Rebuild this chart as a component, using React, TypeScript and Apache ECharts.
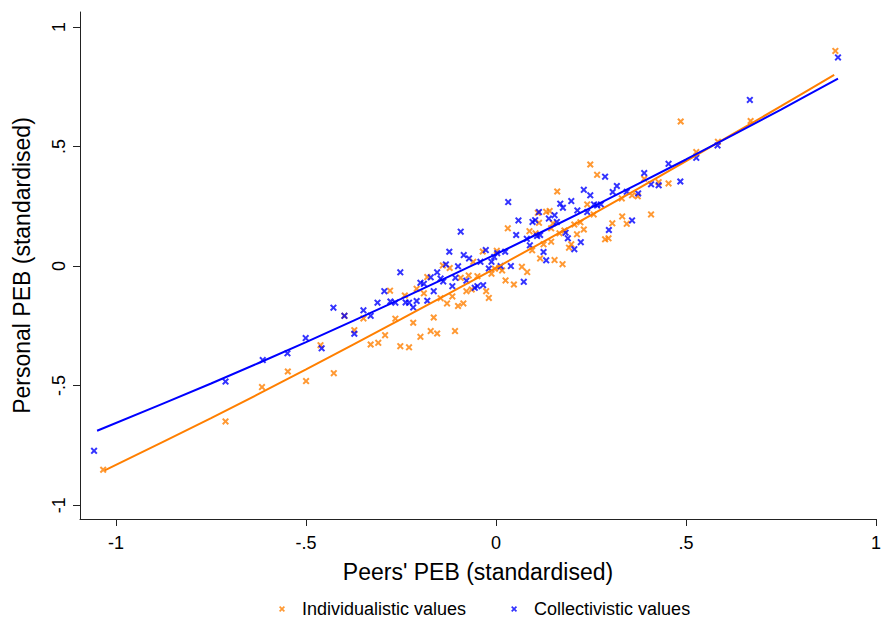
import React, { useEffect, useRef } from "react";
import * as echarts from "echarts";

const xTicks = [-1, -0.5, 0, 0.5, 1];
const yTicks = [-1, -0.5, 0, 0.5, 1];
const seriesNames = ["Individualistic values", "Collectivistic values"];

const individualistic: number[][] = [
  [-1.034, -0.852], [-0.712, -0.65], [-0.616, -0.506], [-0.548, -0.441], [-0.5, -0.481], [-0.462, -0.331],
  [-0.427, -0.448], [-0.399, -0.208], [-0.373, -0.268], [-0.349, -0.219], [-0.33, -0.328], [-0.31, -0.321],
  [-0.292, -0.289], [-0.279, -0.103], [-0.265, -0.22], [-0.252, -0.335], [-0.24, -0.123], [-0.229, -0.34],
  [-0.218, -0.237], [-0.209, -0.095], [-0.199, -0.296], [-0.19, -0.114], [-0.181, -0.046], [-0.172, -0.272],
  [-0.164, -0.215], [-0.155, -0.282], [-0.14, 0.003], [-0.122, -0.008], [-0.06, 0.018], [-0.035, 0.061],
  [0.002, 0.064], [0.009, -0.007], [0.016, -0.018], [0.031, 0.158], [0.047, -0.077], [0.025, -0.06],
  [0.068, -0.003], [0.082, -0.025], [0.088, 0.146], [0.11, 0.223], [-0.093, -0.049], [-0.072, -0.039],
  [-0.049, -0.042], [-0.064, -0.098], [-0.078, -0.105], [-0.026, -0.105], [-0.019, -0.133], [-0.012, -0.032],
  [-0.003, -0.011], [-0.129, -0.156], [-0.115, -0.127], [-0.1, -0.167], [-0.086, -0.156], [-0.146, -0.134],
  [-0.108, -0.272], [0.248, 0.425], [0.266, 0.382], [0.161, 0.312], [0.358, 0.296], [0.373, 0.292],
  [0.331, 0.283], [0.24, 0.258], [0.257, 0.216], [0.332, 0.208], [0.344, 0.177], [0.306, 0.179],
  [0.296, 0.116], [0.287, 0.112], [0.132, 0.227], [0.141, 0.23], [0.113, 0.181], [0.15, 0.179],
  [0.222, 0.183], [0.206, 0.174], [0.231, 0.153], [0.213, 0.133], [0.18, 0.149], [0.167, 0.137],
  [0.145, 0.158], [0.104, 0.137], [0.145, 0.102], [0.125, 0.091], [0.095, 0.066], [0.198, 0.091],
  [0.192, 0.077], [0.116, 0.032], [0.154, 0.025], [0.175, 0.008], [0.893, 0.9], [0.67, 0.607],
  [0.486, 0.605], [0.584, 0.52], [0.527, 0.477], [0.39, 0.365], [0.428, 0.351], [0.454, 0.346],
  [0.408, 0.216],
];

const collectivistic: number[][] = [
  [-1.058, -0.773], [-0.712, -0.483], [-0.614, -0.393], [-0.549, -0.365], [-0.501, -0.301], [-0.459, -0.344],
  [-0.428, -0.174], [-0.399, -0.208], [-0.373, -0.283], [-0.349, -0.185], [-0.33, -0.208], [-0.312, -0.153],
  [-0.294, -0.105], [-0.278, -0.148], [-0.265, -0.153], [-0.252, -0.026], [-0.238, -0.152], [-0.229, -0.153],
  [-0.218, -0.173], [-0.209, -0.146], [-0.199, -0.07], [-0.19, -0.074], [-0.181, -0.145], [-0.172, -0.047],
  [-0.164, -0.105], [-0.155, -0.026], [0.032, 0.268], [-0.093, 0.144], [-0.123, 0.06], [-0.132, 0.007],
  [-0.1, -0.001], [-0.085, 0.046], [-0.071, 0.032], [-0.027, 0.067], [-0.041, 0.018], [-0.012, 0.018],
  [-0.019, -0.01], [0.003, 0.054], [-0.005, 0.038], [0.024, 0.06], [0.012, 0.0], [0.053, 0.13],
  [0.059, 0.191], [0.039, 0.0], [0.073, -0.066], [0.081, 0.114], [0.089, 0.087], [0.096, 0.185],
  [0.103, 0.192], [-0.146, -0.052], [-0.139, -0.064], [-0.115, -0.084], [-0.107, -0.049], [-0.078, -0.061],
  [-0.056, -0.091], [-0.049, -0.084], [-0.034, -0.08], [0.287, 0.374], [0.231, 0.319], [0.248, 0.296],
  [0.318, 0.335], [0.307, 0.31], [0.39, 0.389], [0.374, 0.304], [0.344, 0.311], [0.198, 0.272],
  [0.169, 0.261], [0.176, 0.244], [0.258, 0.258], [0.266, 0.254], [0.276, 0.258], [0.214, 0.233],
  [0.24, 0.226], [0.358, 0.191], [0.297, 0.151], [0.113, 0.226], [0.154, 0.213], [0.139, 0.199],
  [0.16, 0.185], [0.183, 0.14], [0.189, 0.116], [0.116, 0.13], [0.108, 0.126], [0.223, 0.1],
  [0.206, 0.071], [0.125, 0.059], [0.132, 0.024], [0.9, 0.873], [0.668, 0.695], [0.583, 0.505],
  [0.527, 0.453], [0.454, 0.428], [0.408, 0.342], [0.428, 0.338], [0.485, 0.354],
];

// fitted curves
const fitIndividualistic: number[][] = [
  [-1.03, -0.855], [-0.75, -0.636], [-0.5, -0.432], [-0.25, -0.222], [0, -0.007],
  [0.25, 0.213], [0.5, 0.439], [0.75, 0.669], [0.89, 0.8],
];
const fitCollectivistic: number[][] = [
  [-1.05, -0.689], [-0.75, -0.491], [-0.5, -0.318], [-0.25, -0.137], [0, 0.05],
  [0.25, 0.245], [0.5, 0.446], [0.75, 0.655], [0.9, 0.784],
];

const ORANGE = "#ff7f00";
const BLUE = "#0000ff";
const FONT = "Liberation Sans, Arial, sans-serif";
const XMARK = "path://M2,0L5,3L8,0L10,2L7,5L10,8L8,10L5,7L2,10L0,8L3,5L0,2Z";

const fmt = (v: number) => (v === 0 ? "0" : String(v).replace("0.", "."));

export default function App() {
  const ref = useRef<HTMLDivElement>(null);
  useEffect(() => {
    if (!ref.current) return;
    const chart = echarts.init(ref.current, undefined, { renderer: "svg" });
    const axisCommon = {
      axisLine: { show: true, onZero: false, lineStyle: { color: "#222", width: 1 } },
      splitLine: { show: false },
      nameLocation: "middle" as const,
      nameTextStyle: { fontFamily: FONT, fontSize: 23, color: "#000" },
    };
    chart.setOption({
      animation: false,
      backgroundColor: "#fff",
      grid: { left: 80, right: 3, top: 12, bottom: 100, containLabel: false },
      xAxis: {
        ...axisCommon,
        type: "value",
        min: -1.095,
        max: 1.0,
        name: "Peers' PEB (standardised)",
        nameGap: 41,
        axisTick: { show: true, length: 7, customValues: xTicks, lineStyle: { color: "#222" } },
        axisLabel: {
          customValues: xTicks,
          formatter: fmt,
          margin: 15,
          fontFamily: FONT,
          fontSize: 18,
          color: "#000",
        },
      },
      yAxis: {
        ...axisCommon,
        type: "value",
        min: -1.058,
        max: 1.063,
        name: "Personal PEB (standardised)",
        nameGap: 47,
        axisTick: { show: true, length: 7, customValues: yTicks, lineStyle: { color: "#222" } },
        axisLabel: {
          customValues: yTicks,
          formatter: fmt,
          rotate: 90,
          margin: 12,
          fontFamily: FONT,
          fontSize: 18,
          color: "#000",
        },
      },
      legend: {
        data: seriesNames,
        left: 279,
        top: 600,
        icon: XMARK,
        itemWidth: 6,
        itemHeight: 6,
        itemGap: 45,
        padding: 0,
        textStyle: { fontFamily: FONT, fontSize: 18, color: "#000", padding: [0, 0, 0, 12] },
      },
      series: [
        {
          name: seriesNames[0],
          type: "scatter",
          data: individualistic,
          symbol: XMARK,
          symbolSize: 7,
          itemStyle: { color: ORANGE },
          z: 2,
        },
        {
          name: seriesNames[1],
          type: "scatter",
          data: collectivistic,
          symbol: XMARK,
          symbolSize: 7,
          itemStyle: { color: BLUE },
          z: 3,
        },
        {
          name: "fit-ind",
          type: "line",
          data: fitIndividualistic,
          showSymbol: false,
          smooth: 0.3,
          lineStyle: { color: ORANGE, width: 2 },
          z: 4,
        },
        {
          name: "fit-col",
          type: "line",
          data: fitCollectivistic,
          showSymbol: false,
          smooth: 0.3,
          lineStyle: { color: BLUE, width: 2 },
          z: 5,
        },
      ],
    });
    return () => chart.dispose();
  }, []);
  return (
    <div
      ref={ref}
      style={{ position: "fixed", left: 0, top: 0, width: 884, height: 619, background: "#fff" }}
    />
  );
}
